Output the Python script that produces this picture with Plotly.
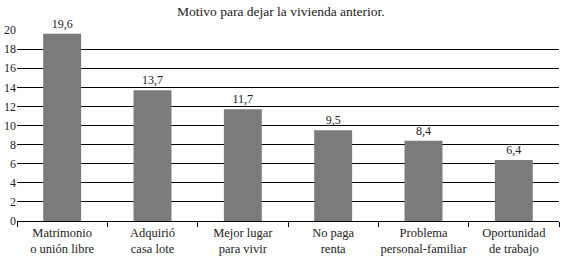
import plotly.graph_objects as go

categories = ["Matrimonio<br>o unión libre", "Adquirió<br>casa lote", "Mejor lugar<br>para vivir",
              "No paga<br>renta", "Problema<br>personal-familiar", "Oportunidad<br>de trabajo"]
values = [19.6, 13.7, 11.7, 9.5, 8.4, 6.4]
value_labels = ["19,6", "13,7", "11,7", "9,5", "8,4", "6,4"]
y_ticks = [0, 2, 4, 6, 8, 10, 12, 14, 16, 18, 20]

FONT = "Liberation Serif, DejaVu Serif, serif"

fig = go.Figure(go.Bar(
    x=categories, y=values, text=value_labels, textposition="outside",
    textfont=dict(family=FONT, size=12, color="#222"),
    marker=dict(color="#7b7b7b", line=dict(width=0)),
    width=0.42, cliponaxis=False, hoverinfo="skip",
))

fig.update_layout(
    width=564, height=257,
    margin=dict(l=17, r=5, t=30, b=36, autoexpand=False),
    paper_bgcolor="white", plot_bgcolor="white",
    showlegend=False,
    font=dict(family=FONT, size=12, color="#222"),
    title=dict(text="Motivo para dejar la vivienda anterior.", x=0.498, xanchor="center",
               y=0.955, yanchor="middle", font=dict(family=FONT, size=13.5, color="#222")),
)
fig.update_xaxes(
    automargin=False, tickangle=0,
    showgrid=False, showline=True, linecolor="black", linewidth=1,
    ticks="outside", tickson="boundaries", ticklen=5, tickcolor="black",
    tickfont=dict(family=FONT, size=12.5, color="#222"),
)
fig.update_yaxes(
    automargin=False,
    range=[0, 20], tickvals=y_ticks, showgrid=True, gridcolor="black", gridwidth=1,
    showline=False, zeroline=False, ticks="", ticklen=0,
    tickfont=dict(family=FONT, size=12, color="#222"),
)

fig.write_html("out.html", config={"displayModeBar": False},
               post_script="document.body.style.margin='0';document.body.style.overflow='hidden';")
